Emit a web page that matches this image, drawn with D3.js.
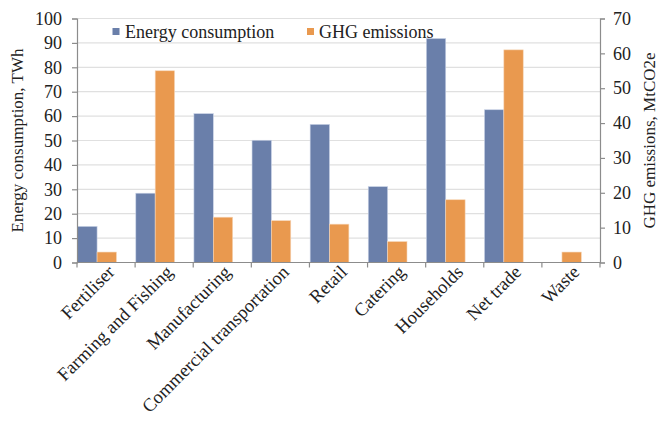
<!DOCTYPE html>
<html><head><meta charset="utf-8">
<script src="https://cdn.jsdelivr.net/npm/d3@7"></script>
<style>body{margin:0;background:#fff}</style>
</head><body>
<svg id="c" width="662" height="423"></svg>
<script>
const categories = ["Fertiliser","Farming and Fishing","Manufacturing","Commercial transportation","Retail","Catering","Households","Net trade","Waste"];
const energy = [14.8, 28.4, 61, 50.1, 56.6, 31.1, 91.8, 62.6, null];
const ghg = [3, 55, 13, 12, 11, 6, 18, 61, 3];
const leftTicks = [0,10,20,30,40,50,60,70,80,90,100];
const rightTicks = [0,10,20,30,40,50,60,70];
const seriesNames = ["Energy consumption","GHG emissions"];
const colors = ["#6A7FAA","#E9994F"];

const FONT = "'Liberation Serif', Tinos, 'Times New Roman', 'DejaVu Serif', serif";
const FS = "18px";
const svg = d3.select("#c").style("font-family", FONT);
const L = 77, R = 600, T = 18.5, B = 262.5;
const x = d3.scaleBand().domain(categories).range([L, R]);
const yL = d3.scaleLinear().domain([0,100]).range([B, T]);
const yR = d3.scaleLinear().domain([0,70]).range([B, T]);
const bw = x.bandwidth()/3;

svg.append("g").selectAll("line").data(leftTicks.slice(1)).join("line")
  .attr("x1", L).attr("x2", R).attr("y1", d=>yL(d)).attr("y2", d=>yL(d))
  .attr("stroke","#e0e0e0").attr("stroke-width",1.2);

const g = svg.append("g");
const eData = categories.map((c,i)=>({c, v:energy[i]})).filter(d=>d.v!=null);
g.selectAll("rect.e").data(eData).join("rect").attr("class","e")
  .attr("x", d=>x(d.c)+0.7).attr("width", bw)
  .attr("y", d=>yL(d.v)).attr("height", d=>B-yL(d.v))
  .attr("fill", colors[0]).attr("stroke","#c9d2e6").attr("stroke-width",0.6);
const gData = categories.map((c,i)=>({c, v:ghg[i]}));
g.selectAll("rect.g").data(gData).join("rect").attr("class","g")
  .attr("x", d=>x(d.c)+0.7+bw).attr("width", bw)
  .attr("y", d=>yR(d.v)).attr("height", d=>B-yR(d.v))
  .attr("fill", colors[1]).attr("stroke","#f6d6b8").attr("stroke-width",0.6);

const axisColor = "#8c8c8c";
const la = svg.append("g").attr("transform",`translate(${L},0)`)
  .call(d3.axisLeft(yL).tickValues(leftTicks).tickSize(5).tickPadding(10));
const ra = svg.append("g").attr("transform",`translate(${R},0)`)
  .call(d3.axisRight(yR).tickValues(rightTicks).tickSize(5).tickPadding(8));
[la,ra].forEach(a=>{
  a.attr("font-family", null).attr("font-size", null);
  a.select(".domain").attr("stroke",axisColor).attr("stroke-width",1.2);
  a.selectAll(".tick line").attr("stroke",axisColor).attr("stroke-width",1.2);
  a.selectAll(".tick text").style("font-size",FS).attr("fill","#222");
});
svg.append("line").attr("x1",L).attr("x2",R).attr("y1",B).attr("y2",B).attr("stroke",axisColor).attr("stroke-width",1.2);
const bounds = categories.map(c=>x(c)).concat([R]);
svg.append("g").selectAll("line").data(bounds).join("line")
  .attr("x1",d=>d).attr("x2",d=>d).attr("y1",B).attr("y2",B+5).attr("stroke",axisColor).attr("stroke-width",1.2);

svg.append("g").selectAll("text").data(categories).join("text")
  .attr("transform", d=>`translate(${x(d)+x.bandwidth()/2+5},${B+6}) rotate(-45)`)
  .attr("text-anchor","end").attr("dy","0.35em").attr("fill","#222")
  .style("font-size","18.5px").text(d=>d);

svg.append("text").attr("transform",`translate(23,${(T+B)/2}) rotate(-90)`)
  .attr("text-anchor","middle").attr("fill","#222").style("font-size","17px").text("Energy consumption, TWh");
svg.append("text").attr("transform",`translate(655,${(T+B)/2}) rotate(-90)`)
  .attr("text-anchor","middle").attr("fill","#222").style("font-size","17px").text("GHG emissions, MtCO2e");

const leg = [{x:112.5, tx:125}, {x:307, tx:319}];
seriesNames.forEach((s,i)=>{
  svg.append("rect").attr("x",leg[i].x).attr("y",28).attr("width",7).attr("height",7).attr("fill",colors[i]);
  svg.append("text").attr("x",leg[i].tx).attr("y",37.5).attr("fill","#222").style("font-size",FS).text(s);
});
</script>
</body></html>
